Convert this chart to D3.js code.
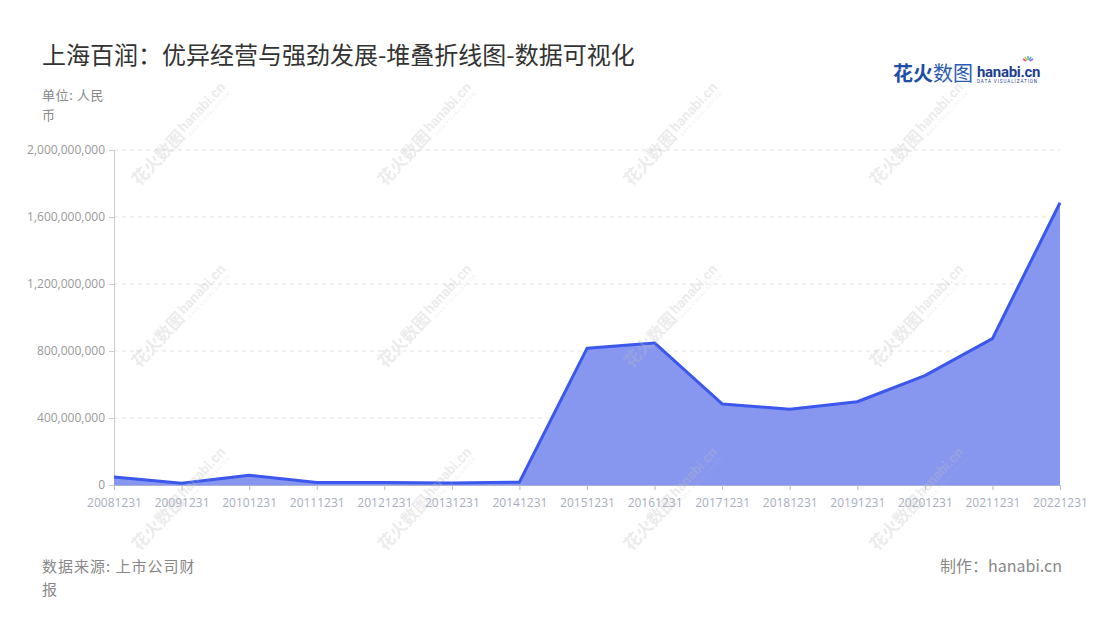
<!DOCTYPE html>
<html>
<head>
<meta charset="utf-8">
<script src="https://cdn.jsdelivr.net/npm/d3@7"></script>
<style>
  body { margin: 0; background: #fff; }
  svg { display: block; font-family: "Noto Sans CJK SC", "Noto Sans", sans-serif; }
</style>
</head>
<body>
<svg id="chart" width="1100" height="620"></svg>
<script>
// data
const years = ['20081231','20091231','20101231','20111231','20121231','20131231','20141231',
  '20151231','20161231','20171231','20181231','20191231','20201231','20211231','20221231'];
const values = [48e6, 10e6, 58e6, 15e6, 15e6, 12e6, 17e6,
  816e6, 848e6, 484e6, 452e6, 497e6, 653e6, 874e6, 1685e6];
const yTicks = [0, 400e6, 800e6, 1200e6, 1600e6, 2000e6];

const margin = {top: 150, right: 40, bottom: 135, left: 114};
const width = 1100, height = 620;
const svg = d3.select('#chart');

const x = d3.scalePoint().domain(years).range([margin.left, width - margin.right]);
const y = d3.scaleLinear().domain([0, 2000e6]).range([height - margin.bottom, margin.top]);

// title
svg.append('text').attr('x', 42).attr('y', 64)
  .attr('font-size', 24).attr('fill', '#333')
  .text('上海百润：优异经营与强劲发展-堆叠折线图-数据可视化');

svg.append('text').attr('x', 42).attr('y', 100).attr('font-size', 13).attr('letter-spacing', 0.6)
  .attr('fill', '#888').text('单位: 人民');
svg.append('text').attr('x', 42).attr('y', 120).attr('font-size', 13).attr('fill', '#888').text('币');

// grid
svg.append('g').selectAll('line').data(yTicks.slice(1)).join('line')
  .attr('x1', margin.left).attr('x2', width - margin.right)
  .attr('y1', d => y(d)).attr('y2', d => y(d))
  .attr('stroke', '#e3e3e3').attr('stroke-dasharray', '4,4');

// y axis
const yAxis = svg.append('g')
  .attr('transform', 'translate(' + margin.left + ',0)')
  .call(d3.axisLeft(y).tickValues(yTicks).tickSize(5).tickPadding(4).tickFormat(d3.format(',')));
yAxis.select('.domain').attr('stroke', '#ccc');
yAxis.selectAll('.tick line').attr('stroke', '#ccc');
yAxis.selectAll('text').attr('fill', '#999').attr('font-size', 12)
  .attr('font-family', '"Open Sans", "Noto Sans", sans-serif');

// area + line
const area = d3.area().x(d => x(d[0])).y0(y(0)).y1(d => y(d[1]));
const line = d3.line().x(d => x(d[0])).y(d => y(d[1]));
const pts = years.map((d, i) => [d, values[i]]);
svg.append('path').datum(pts).attr('d', area).attr('fill', '#8797f0');

// x axis
const xAxis = svg.append('g')
  .attr('transform', 'translate(0,' + y(0) + ')')
  .call(d3.axisBottom(x).tickSize(5).tickPadding(8));
xAxis.select('.domain').attr('stroke', '#a9b0d8');
xAxis.selectAll('.tick line').attr('stroke', '#bbb');
xAxis.selectAll('text').attr('fill', '#a8aec0').attr('font-size', 12)
  .attr('font-family', '"Open Sans", "Noto Sans", sans-serif');

svg.append('path').datum(pts).attr('d', line)
  .attr('fill', 'none').attr('stroke', '#3b57ec').attr('stroke-width', 3)
  .attr('stroke-linejoin', 'round');

// watermarks
const wmX = [184, 430, 676, 922];
const wmY = [130, 312, 495];
const wm = svg.append('g').attr('pointer-events', 'none');
wmY.forEach(cy => wmX.forEach(cx => {
  const g = wm.append('g').attr('transform', 'translate(' + cx + ',' + cy + ') rotate(-47)')
    .attr('fill', 'rgba(190,190,190,0.3)');
  g.append('text').attr('x', -72).attr('y', 6).attr('font-size', 17).attr('font-weight', 'bold').text('花火数图');
  g.append('text').attr('x', -2).attr('y', 2).attr('font-size', 14).attr('font-weight', 'bold')
    .attr('font-family', 'Roboto, sans-serif').text('hanabi.cn');
  g.append('text').attr('x', 0).attr('y', 9).attr('font-size', 4.5).attr('letter-spacing', 0.8)
    .attr('font-family', 'Roboto, sans-serif').text('DATA VISUALIZATION');
}));

// logo
const logo = svg.append('g').attr('transform', 'translate(893,81)');
logo.append('text').attr('font-size', 20).attr('font-weight', 'bold').attr('fill', '#1f4ea6').text('花火');
logo.append('text').attr('x', 40).attr('font-size', 20).attr('fill', '#2a5bb5').text('数图');
logo.append('text').attr('x', 84).attr('y', -4).attr('font-size', 15).attr('font-weight', 'bold')
  .attr('font-family', 'Roboto, sans-serif').attr('fill', '#1f3f8f').attr('letter-spacing', -0.3).text('hanabi.cn');
logo.append('text').attr('x', 84).attr('y', 2).attr('font-size', 4.6).attr('letter-spacing', 0.9)
  .attr('font-family', 'Roboto, sans-serif').attr('fill', '#1f3f8f').text('DATA VISUALIZATION');
const sparks = ['#f25a7a', '#f7b733', '#3cc8a0', '#4aa3f0', '#9b6cf0'];
sparks.forEach((c, i) => {
  const a = (-150 + i * 30) * Math.PI / 180;
  logo.append('line').attr('x1', 135 + Math.cos(a) * 2).attr('y1', -19 + Math.sin(a) * 2)
    .attr('x2', 135 + Math.cos(a) * 6).attr('y2', -19 + Math.sin(a) * 6)
    .attr('stroke', c).attr('stroke-width', 1.5);
});

// footer
svg.append('text').attr('x', 42).attr('y', 572).attr('font-size', 15).attr('letter-spacing', 1)
  .attr('fill', '#888').text('数据来源: 上市公司财');
svg.append('text').attr('x', 42).attr('y', 595).attr('font-size', 15).attr('fill', '#888').text('报');
svg.append('text').attr('x', 1062).attr('y', 572).attr('font-size', 16).attr('fill', '#888')
  .attr('text-anchor', 'end').text('制作：hanabi.cn');
</script>
</body>
</html>
